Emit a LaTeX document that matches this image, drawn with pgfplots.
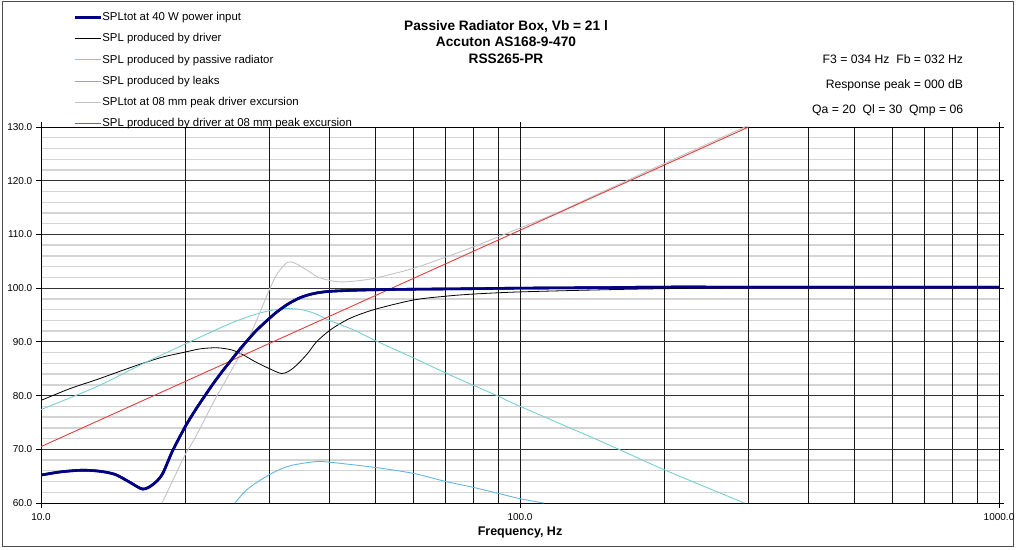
\documentclass[border=0pt]{standalone}
\usepackage{fontspec}
\setmainfont{Liberation Sans}
\usepackage{pgfplots}
\pgfplotsset{compat=1.18}
\definecolor{navyb}{RGB}{0,0,128}
\definecolor{prcyan}{RGB}{120,208,208}
\definecolor{leakblue}{RGB}{95,185,222}
\definecolor{lgray}{RGB}{195,195,195}
\definecolor{redl}{RGB}{228,60,60}
\begin{document}
\begin{tikzpicture}[x=1pt,y=1pt]
\useasboundingbox (-41,-46) rectangle (983,503);
\draw[black!70, line width=0.8pt] (-39,-43) rectangle (972,502);
\begin{axis}[
  at={(0,0)}, anchor=south west,
  scale only axis, width=958pt, height=376pt,
  xmode=log, xmin=10, xmax=1000, ymin=60, ymax=130,
  xtick={10,100,1000}, xticklabels={10.0,100.0,1000.0},
  minor xtick={20,30,40,50,60,70,80,90,200,300,400,500,600,700,800,900},
  ytick={60,70,80,90,100,110,120,130},
  yticklabels={60.0,70.0,80.0,90.0,100.0,110.0,120.0,130.0},
  minor ytick={62,64,66,68,72,74,76,78,82,84,86,88,92,94,96,98,102,104,106,108,112,114,116,118,122,124,126,128},
  grid=both,
  minor y grid style={draw=black, draw opacity=0.17, line width=1.4pt},
  major y grid style={draw=black!80, line width=0.8pt},
  major x grid style={draw=black!90, line width=0.9pt},
  minor x grid style={draw=black!90, line width=0.9pt},
  axis line style={black, line width=0.9pt},
  tick align=outside, major tick length=5pt, minor tick length=0pt,
  tick style={black, line width=0.8pt},
  yticklabel style={font=\fontsize{10}{12}\selectfont, inner sep=0pt, xshift=-3.5pt},
  xticklabel style={font=\fontsize{10}{12}\selectfont, inner sep=0pt, yshift=-5pt},
  xlabel={Frequency, Hz},
  xlabel style={font=\bfseries\fontsize{12.5}{14}\selectfont, at={(axis description cs:0.5,0)}, anchor=base, yshift=-32pt},
  legend style={draw=none, fill=none, at={(axis description cs:0.0334,1.3067)}, anchor=north west, inner sep=0pt, row sep=10.5pt, column sep=0pt, font=\fontsize{11.4}{13}\selectfont, nodes={inner sep=0.5pt}},
  legend cell align=left,
  legend image code/.code={\draw[#1] (0pt,0pt) -- (26pt,0pt);},
]
% SPLtot at 40 W
\addplot[navyb, line width=2.6pt, smooth] coordinates {
(10,65.2) (11,65.8) (12.2,66.1) (13.3,65.9) (14.3,65.3) (15.3,63.9) (16.3,62.6) (17.1,63.4) (17.9,65.3) (18.8,69.6) (20,74.2) (21,77.3) (22,80.0) (23,82.5) (24,84.7) (25,86.7) (26,88.6) (27,90.3) (28,91.9) (29,93.2) (30,94.4) (31,95.5) (32,96.4) (33,97.2) (34.7,98.2) (36,98.7) (37.6,99.1) (40,99.4) (45,99.6) (50,99.7) (60,99.8) (80,99.9) (100,100.0) (150,100.1) (200,100.2) (300,100.2) (1000,100.2)};
\addlegendentry{SPLtot at 40 W power input}
% driver
\addplot[black, line width=0.8pt, smooth] coordinates {
(10,79.1) (11.5,81.3) (13.1,83.0) (14.7,84.6) (16.3,86.0) (18,87.2) (20,88.1) (21.5,88.7) (23.3,88.9) (25,88.5) (26.4,87.6) (28,86.3) (30,85.0) (31.8,84.1) (33,84.6) (34.2,85.7) (36,87.8) (37.6,90.0) (40,92.1) (42.5,93.6) (45,94.7) (50,96.1) (60,97.8) (70,98.5) (80,98.9) (100,99.3) (150,99.7) (200,99.9) (300,100.1) (500,100.2) (1000,100.2)};
\addlegendentry{SPL produced by driver}
% passive radiator
\addplot[prcyan, line width=0.9pt, smooth] coordinates {
(10,77.4) (13.1,81.7) (16.3,85.9) (20,89.6) (22.5,91.7) (24.8,93.4) (27.5,94.9) (30,95.8) (32.5,96.2) (35,96.0) (37.5,95.2) (40,94.0) (45,92.2) (50,90.2) (60,87.0) (70,84.2) (80,81.9) (90,79.9) (100,78.0) (150,71.2) (200,66.2) (294,60.0)};
\addlegendentry{SPL produced by passive radiator}
% leaks
\addplot[leakblue, line width=0.9pt, smooth] coordinates {
(25.4,60.0) (27,62.6) (30,65.3) (33,66.9) (37.4,67.7) (40,67.6) (50,66.6) (60,65.5) (70,64.0) (80,62.9) (90,61.8) (100,60.8) (112,60.0)};
\addlegendentry{SPL produced by leaks}
% SPLtot at 8 mm
\addplot[lgray, line width=0.9pt, smooth] coordinates {
(17.9,60.0) (20,69.0) (21,72.2) (23.3,80.0) (24.3,82.8) (26.9,90.0) (28.5,95.0) (30,99.8) (31.2,102.8) (32.7,104.8) (34,104.6) (36,103.3) (38,102.0) (41.5,101.2) (45,101.3) (50,101.9) (60,103.7) (70,105.8) (80,107.7) (100,111.2) (120,114.1) (150,118.1) (200,123.2) (300,130.3)};
\addlegendentry{SPLtot at 08 mm peak driver excursion}
% driver at 8 mm
\addplot[redl, line width=0.9pt] coordinates {(10,70.5) (300,130.0)};
\addlegendentry{SPL produced by driver at 08 mm peak excursion}
% redraw total on top
\addplot[navyb, line width=2.6pt, smooth, forget plot] coordinates {
(10,65.2) (11,65.8) (12.2,66.1) (13.3,65.9) (14.3,65.3) (15.3,63.9) (16.3,62.6) (17.1,63.4) (17.9,65.3) (18.8,69.6) (20,74.2) (21,77.3) (22,80.0) (23,82.5) (24,84.7) (25,86.7) (26,88.6) (27,90.3) (28,91.9) (29,93.2) (30,94.4) (31,95.5) (32,96.4) (33,97.2) (34.7,98.2) (36,98.7) (37.6,99.1) (40,99.4) (45,99.6) (50,99.7) (60,99.8) (80,99.9) (100,100.0) (150,100.1) (200,100.2) (300,100.2) (1000,100.2)};
\end{axis}
\node[font=\bfseries\fontsize{13.7}{16}\selectfont, anchor=base] at (465,472.4) {Passive Radiator Box, Vb = 21 l};
\node[font=\bfseries\fontsize{13.7}{16}\selectfont, anchor=base] at (465,456.4) {Accuton AS168-9-470};
\node[font=\bfseries\fontsize{13.7}{16}\selectfont, anchor=base] at (465,439.8) {RSS265-PR};
\node[font=\fontsize{12.2}{14}\selectfont, anchor=base east, inner sep=0pt] at (922.3,439.6) {F3 = 034 Hz\ \ Fb = 032 Hz};
\node[font=\fontsize{12.2}{14}\selectfont, anchor=base east, inner sep=0pt] at (922.3,414.3) {Response peak = 000 dB};
\node[font=\fontsize{12.2}{14}\selectfont, anchor=base east, inner sep=0pt] at (922.3,389.6) {Qa = 20\ \ Ql = 30\ \ Qmp = 06};
\end{tikzpicture}
\end{document}
